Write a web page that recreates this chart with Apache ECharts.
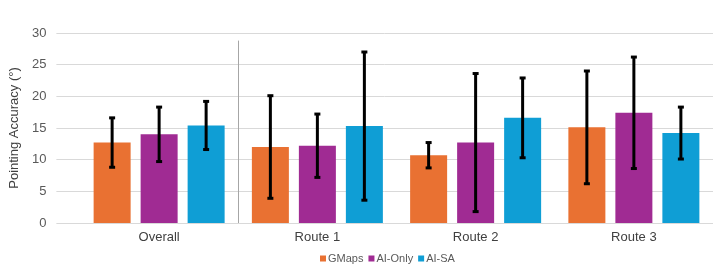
<!DOCTYPE html>
<html>
<head>
<meta charset="utf-8">
<title>Pointing accuracy</title>
<script src="https://cdn.jsdelivr.net/npm/echarts@6/dist/echarts.min.js"></script>
<style>
  html, body { margin: 0; padding: 0; background: #fff; }
  #main { width: 719px; height: 266px; }
</style>
</head>
<body>
<div id="main"></div>
<script>
// categories and series
var categories = ['Overall', 'Route 1', 'Route 2', 'Route 3'];
var seriesNames = ['GMaps', 'AI-Only', 'AI-SA'];
var colors = ['#E97132', '#A02B93', '#0F9ED5'];

// means
var gmaps  = [12.7, 12.0, 10.7, 15.1];
var aiOnly = [14.0, 12.2, 12.7, 17.4];
var aiSa   = [15.4, 15.3, 16.6, 14.2];
// error (+/-)
var gmapsErr  = [3.9, 8.1, 2.0, 8.9];
var aiOnlyErr = [4.3, 5.0, 10.9, 8.8];
var aiSaErr   = [3.8, 11.7, 6.3, 4.1];

var yTicks = [0, 5, 10, 15, 20, 25, 30];
// separator after "Overall", from 0 up to this value
var separator = [[0, 0, 28.8]];

var means = [gmaps, aiOnly, aiSa];
var errs = [gmapsErr, aiOnlyErr, aiSaErr];

var barW = 37, barGapPx = 10;
var font = 'Liberation Sans, Arial, sans-serif';

var myChart = echarts.init(document.getElementById('main'));

function errSeries(k) {
    var data = categories.map(function (c, i) {
        return [i, means[k][i] - errs[k][i], means[k][i] + errs[k][i]];
    });
    var offset = (k - 1) * (barW + barGapPx);
    return {
        name: seriesNames[k] + ' err',
        type: 'custom',
        xAxisIndex: 1,
        yAxisIndex: 1,
        z: 10,
        data: data,
        renderItem: function (params, api) {
            var lo = api.coord([api.value(0), api.value(1)]);
            var hi = api.coord([api.value(0), api.value(2)]);
            var x = lo[0] + offset;
            var cap = 3;
            var st = { stroke: '#000', lineWidth: 3 };
            return {
                type: 'group',
                children: [
                    { type: 'line', shape: { x1: x, y1: lo[1], x2: x, y2: hi[1] }, style: st },
                    { type: 'line', shape: { x1: x - cap, y1: lo[1], x2: x + cap, y2: lo[1] }, style: st },
                    { type: 'line', shape: { x1: x - cap, y1: hi[1], x2: x + cap, y2: hi[1] }, style: st }
                ]
            };
        }
    };
}

var series = [];
seriesNames.forEach(function (n, k) {
    series.push({
        name: n,
        type: 'bar',
        xAxisIndex: 1,
        yAxisIndex: 1,
        barWidth: barW,
        barGap: (barGapPx / barW * 100) + '%',
        itemStyle: { color: colors[k] },
        data: means[k]
    });
});
seriesNames.forEach(function (n, k) {
    series.push(errSeries(k));
});
// vertical divider at the right edge of the first category band
series.push({
    name: 'divider',
    type: 'custom',
    xAxisIndex: 1,
    yAxisIndex: 1,
    z: 1,
    silent: true,
    data: separator,
    renderItem: function (params, api) {
        var half = api.size([1, 0])[0] / 2;
        var lo = api.coord([api.value(0), api.value(1)]);
        var hi = api.coord([api.value(0), api.value(2)]);
        var x = Math.round(lo[0] + half) + 0.5;
        return {
            type: 'line',
            shape: { x1: x, y1: lo[1], x2: x, y2: hi[1] },
            style: { stroke: '#a6a6a6', lineWidth: 1 }
        };
    }
});

var option = {
    backgroundColor: '#fff',
    animation: false,
    textStyle: { fontFamily: font },
    grid: [
        { left: 48, right: 6, top: 33, bottom: 43 },
        { left: 80, right: 6, top: 33, bottom: 43 }
    ],
    legend: {
        data: seriesNames,
        left: 315,
        top: 248,
        icon: 'rect',
        itemWidth: 6,
        itemHeight: 6,
        itemGap: 5,
        textStyle: { fontSize: 11, color: '#595959', fontFamily: font, padding: [0, 0, 0, -3] }
    },
    xAxis: [
        { type: 'value', gridIndex: 0, min: 0, max: 1, show: false },
        {
            type: 'category',
            gridIndex: 1,
            data: categories,
            axisLine: { show: false },
            axisTick: { show: false },
            axisLabel: { fontSize: 13, color: '#404040', margin: 8, fontFamily: font },
            splitLine: { show: false }
        }
    ],
    yAxis: [
        {
            type: 'value',
            gridIndex: 0,
            min: yTicks[0],
            max: yTicks[yTicks.length - 1],
            interval: 5,
            name: 'Pointing Accuracy (°)',
            nameLocation: 'middle',
            nameGap: 32,
            nameTextStyle: { fontSize: 13, color: '#404040', fontFamily: font },
            axisLine: { show: false },
            axisTick: { show: false },
            axisLabel: { fontSize: 13, color: '#595959', margin: 10, fontFamily: font },
            splitLine: { lineStyle: { color: '#d9d9d9', width: 1 } }
        },
        {
            type: 'value',
            gridIndex: 1,
            min: yTicks[0],
            max: yTicks[yTicks.length - 1],
            interval: 5,
            show: false,
            splitLine: { show: false }
        }
    ],
    series: series
};

myChart.setOption(option);
</script>
</body>
</html>
